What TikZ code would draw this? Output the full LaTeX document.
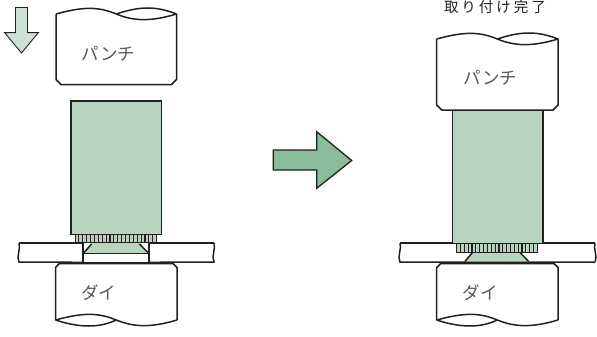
\documentclass[tikz,border=0pt]{standalone}
\usepackage{fontspec}
\newfontfamily\jpfont{Noto Sans CJK JP}
\definecolor{ink}{HTML}{231F20}
\definecolor{partgreen}{HTML}{B9D3C1}
\definecolor{palegreen}{HTML}{CDE2D4}
\definecolor{midgreen}{HTML}{88BC9B}
\tikzset{
  outline/.style={draw=ink,line width=1.5pt,line join=miter},
  greenpart/.style={outline,fill=partgreen},
  thinpart/.style={draw=ink,line width=0.9pt,fill=partgreen},
  kana/.style={font=\jpfont\fontsize{17.5}{17.5}\selectfont,text=ink!75,inner sep=0pt},
  title/.style={font=\jpfont\fontsize{14.5}{14.5}\selectfont,text=ink,inner sep=0pt}
}
% #1 left x, #2 right x, #3 wave y
\newcommand{\wavelines}[3]{%
  \pgfmathsetmacro{\waveA}{#1+0.24*(#2-#1)}\pgfmathsetmacro{\waveB}{#1+0.36*(#2-#1)}%
  \pgfmathsetmacro{\waveM}{(#1+#2)/2}%
  \pgfmathsetmacro{\waveC}{#1+0.64*(#2-#1)}\pgfmathsetmacro{\waveD}{#1+0.78*(#2-#1)}%
  \draw[outline] (#1,#3) .. controls (\waveA,#3-8) and (\waveB,#3-7) .. (\waveM,#3)
     .. controls (\waveC,#3+7) and (\waveD,#3+8) .. (#2,#3);
}
% punch: #1 left, #2 right, #3 wave y, #4 bottom y
\newcommand{\punchbody}[4]{%
  \fill[white] (#1,#3) rectangle (#2,#4);
  \draw[outline] (#1,#3) -- (#1,#4-5) -- (#1+5,#4) -- (#2-5,#4) -- (#2,#4-5) -- (#2,#3);
  \wavelines{#1}{#2}{#3}
  \pgfmathsetmacro{\waveM}{(#1+#2)/2}%
  \draw[outline] (\waveM,#3) .. controls (\waveM+0.2*#2-0.2*#1,#3-8) and (\waveM+0.33*#2-0.33*#1,#3-8) .. (#2,#3);
}
% die: #1 left, #2 right, #3 top y, #4 wave y
\newcommand{\diebody}[4]{%
  \draw[outline] (#1,#4) -- (#1,#3+4) -- (#1+4,#3) -- (#2-4,#3) -- (#2,#3+4) -- (#2,#4);
  \wavelines{#1}{#2}{#4}
  \pgfmathsetmacro{\waveM}{(#1+#2)/2}%
  \draw[outline] (#1,#4) .. controls (#1+0.2*#2-0.2*#1,#4+8) and (#1+0.36*#2-0.36*#1,#4+8) .. (\waveM,#4);
}
% knurl: #1 left, #2 right, #3 top, #4 bottom
\newcommand{\knurl}[4]{%
  \draw[thinpart] (#1,#3) rectangle (#2,#4);
  \foreach \i in {1,...,20}{\draw[draw=ink,line width=1.15pt] ({#1+\i*(#2-#1)/21},#3) -- ({#1+\i*(#2-#1)/21},#4);}
}
% plate wavy end: at x #1
\newcommand{\plateend}[1]{%
  (#1,243) .. controls (#1+2,248) and (#1-3,257) .. (#1,262)
}
\begin{document}
\begin{tikzpicture}[x=1pt,y=-1pt]
\useasboundingbox (0,0) rectangle (597,337);
\clip (0,0) rectangle (597,337);
% state-change arrow and downward arrow
\draw[draw=ink,line width=1.3pt,fill=midgreen] (273.3,150) -- (316.7,150) -- (316.7,131.7) -- (351.7,160.5) -- (316.7,188.3) -- (316.7,170) -- (273.3,170) -- cycle;
\draw[draw=ink,line width=0.9pt,fill=palegreen] (15.5,7.5) -- (27.5,7.5) -- (27.5,32.7) -- (38.3,32.7) -- (21.5,53) -- (4.7,32.7) -- (15.5,32.7) -- cycle;
% left state
\punchbody{56}{176.5}{14}{84.5}
\node[kana] (punchL) at (108.5,53.5) {パンチ};
\draw[greenpart] (71,101) rectangle (161.5,234.7);
\draw[outline] \plateend{19} -- (83,262.3);
\draw[outline] (19,243) -- (83,243);
\draw[outline] (83,243) -- (83,262.3);
\draw[outline] \plateend{214} -- (149,262.3);
\draw[outline] (214,243) -- (149,243);
\draw[outline] (149,243) -- (149,262.3);
\draw[outline] (83,262.3) -- (149,262.3);
\fill[partgreen] (91.5,243) -- (140,243) -- (148,253) -- (84,253) -- cycle;
\draw[outline] (91.5,244) -- (84,252.7);
\draw[outline] (139.5,244) -- (148,252.7);
\draw[outline] (84,253.3) -- (148,253.3);
\knurl{75}{156.7}{234.7}{242.7}
\diebody{55.5}{177}{263.5}{320}
\node[kana] (dieL) at (98.5,292.5) {ダイ};
% right state
\node[title] (done) at (495,7) {取\hspace{3pt}り\hspace{3pt}付\hspace{3pt}け\hspace{3pt}完\hspace{3pt}了};
\draw[greenpart] (452.3,109) rectangle (543,243.3);
\punchbody{436.7}{558}{39}{110}
\node[kana] (punchR) at (490.5,78) {パンチ};
\draw[outline] \plateend{400} -- (595,262);
\draw[outline] (400,243) -- (452.3,243);
\draw[outline] (595,243) -- (543,243);
\draw[outline] (595,262) .. controls (598,257) and (593,248) .. (595,243);
\fill[partgreen] (472.5,252.5) -- (520,252.5) -- (528.5,261.3) -- (465,261.3) -- cycle;
\draw[outline] (472.5,252.5) -- (465,261.3);
\draw[outline] (520,252.5) -- (528.5,261.3);
\knurl{456.7}{537.3}{243.3}{252.3}
\diebody{436.7}{558}{263.5}{320}
\node[kana] (dieR) at (480,293) {ダイ};
\end{tikzpicture}
\end{document}
